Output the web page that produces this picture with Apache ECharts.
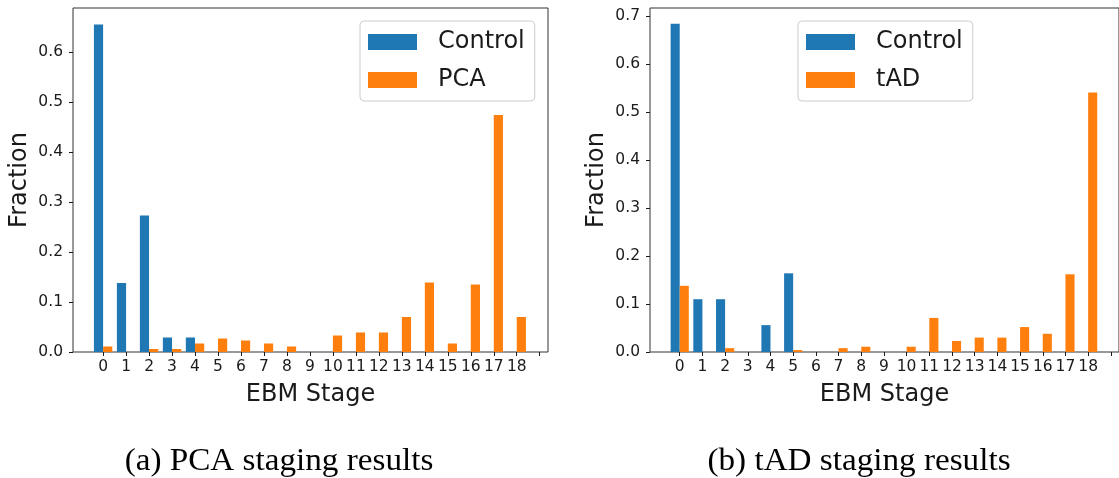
<!DOCTYPE html>
<html>
<head>
<meta charset="utf-8">
<script src="https://cdn.jsdelivr.net/npm/echarts@6/dist/echarts.min.js"></script>
<style>
  html, body { margin: 0; padding: 0; background: #fff; }
  #chart { width: 1119px; height: 478px; }
</style>
</head>
<body>
<div id="chart"></div>
<script>
const stages = [0, 1, 2, 3, 4, 5, 6, 7, 8, 9, 10, 11, 12, 13, 14, 15, 16, 17, 18];
const xTicks = [0, 1, 2, 3, 4, 5, 6, 7, 8, 9, 10, 11, 12, 13, 14, 15, 16, 17, 18, 19];

// (a) PCA staging
const controlA = [0.655, 0.138, 0.273, 0.029, 0.029, 0, 0, 0, 0, 0, 0, 0, 0, 0, 0, 0, 0, 0, 0];
const pcaA = [0.011, 0, 0.006, 0.006, 0.017, 0.027, 0.023, 0.017, 0.011, 0, 0.033, 0.039, 0.039, 0.070, 0.139, 0.017, 0.135, 0.474, 0.070];
const yTicksA = [0, 0.1, 0.2, 0.3, 0.4, 0.5, 0.6];

// (b) tAD staging
const controlB = [0.684, 0.110, 0.110, 0, 0.056, 0.164, 0, 0, 0, 0, 0, 0, 0, 0, 0, 0, 0, 0, 0];
const tadB = [0.138, 0, 0.008, 0, 0, 0.004, 0, 0.008, 0.011, 0, 0.011, 0.071, 0.023, 0.030, 0.030, 0.052, 0.038, 0.162, 0.541];
const yTicksB = [0, 0.1, 0.2, 0.3, 0.4, 0.5, 0.6, 0.7];

const BLUE = '#1f77b4';
const ORANGE = '#ff7f0e';
const INK = '#1a1a1a';
const FONT = 'DejaVu Sans';

const chart = echarts.init(document.getElementById('chart'));

function pairs(values) {
    return stages.map((s, i) => [s, values[i]]);
}

// bar from stage+from to stage+to (in axis units), drawn via the axis scales
function barSeries(name, values, gridIndex, from, to, color) {
    return {
        name,
        type: 'custom',
        xAxisIndex: gridIndex,
        yAxisIndex: gridIndex,
        itemStyle: { color },
        encode: { x: 0, y: 1 },
        data: pairs(values),
        renderItem(params, api) {
            const s = api.value(0);
            const v = api.value(1);
            if (!v) return null;
            const top = api.coord([s + from, v]);
            const base = api.coord([s + to, 0]);
            return {
                type: 'rect',
                shape: { x: top[0], y: top[1], width: base[0] - top[0], height: base[1] - top[1] },
                style: api.style(),
            };
        },
    };
}

function xAxis(gridIndex) {
    return {
        type: 'value',
        gridIndex,
        min: -1.31,
        max: 19.36,
        name: 'EBM Stage',
        nameLocation: 'middle',
        nameGap: 31,
        nameTextStyle: { fontFamily: FONT, fontSize: 24, color: INK },
        splitLine: { show: false },
        axisLine: { show: false, onZero: false },
        axisTick: { show: true, length: 4, customValues: xTicks, lineStyle: { color: INK, width: 1 } },
        axisLabel: {
            customValues: stages,
            margin: 7,
            fontFamily: FONT,
            fontSize: 15.5,
            color: INK,
        },
    };
}

function yAxis(gridIndex, max, ticks) {
    return {
        type: 'value',
        gridIndex,
        min: 0,
        max,
        name: 'Fraction',
        nameLocation: 'middle',
        nameRotate: 90,
        nameGap: 41,
        nameTextStyle: { fontFamily: FONT, fontSize: 24, color: INK },
        splitLine: { show: false },
        axisLine: { show: false, onZero: false },
        axisTick: { show: true, length: 4, customValues: ticks, lineStyle: { color: INK, width: 1 } },
        axisLabel: {
            customValues: ticks,
            margin: 10,
            fontFamily: FONT,
            fontSize: 15.5,
            color: INK,
            formatter: (v) => v.toFixed(1),
        },
    };
}

function legend(left, names) {
    return {
        orient: 'vertical',
        left,
        top: 21,
        data: names.map((n) => ({ name: n, icon: 'rect' })),
        itemWidth: 49,
        itemHeight: 16,
        itemGap: 14,
        padding: [9, 10, 9, 8],
        backgroundColor: 'rgba(255,255,255,0.8)',
        borderColor: '#cccccc',
        borderWidth: 1,
        borderRadius: 4,
        selectedMode: false,
        textStyle: { fontFamily: FONT, fontSize: 24, lineHeight: 24, color: INK, padding: [0, 0, 0, 16] },
    };
}

chart.setOption({
    animation: false,
    grid: [
        { left: 73, top: 8, width: 475, height: 344, show: true, borderColor: '#333', borderWidth: 1, backgroundColor: 'transparent' },
        { left: 650, top: 8, width: 475, height: 344, show: true, borderColor: '#333', borderWidth: 1, backgroundColor: 'transparent' },
    ],
    xAxis: [xAxis(0), xAxis(1)],
    yAxis: [yAxis(0, 0.688, yTicksA), yAxis(1, 0.717, yTicksB)],
    legend: [legend(360, ['Control', 'PCA']), legend(798, ['Control', 'tAD'])],
    series: [
        barSeries('Control', controlA, 0, -0.4, 0, BLUE),
        barSeries('PCA', pcaA, 0, 0, 0.4, ORANGE),
        barSeries('Control', controlB, 1, -0.4, 0, BLUE),
        barSeries('tAD', tadB, 1, 0, 0.4, ORANGE),
    ],
    graphic: [
        {
            type: 'text', x: 279, y: 462, scaleX: 1.07,
            style: { text: '(a) PCA staging results', fontFamily: 'Liberation Serif', fontSize: 31, fill: '#000', align: 'center', verticalAlign: 'middle' },
        },
        {
            type: 'text', x: 859, y: 462, scaleX: 1.07,
            style: { text: '(b) tAD staging results', fontFamily: 'Liberation Serif', fontSize: 31, fill: '#000', align: 'center', verticalAlign: 'middle' },
        },
    ],
});
</script>
</body>
</html>
